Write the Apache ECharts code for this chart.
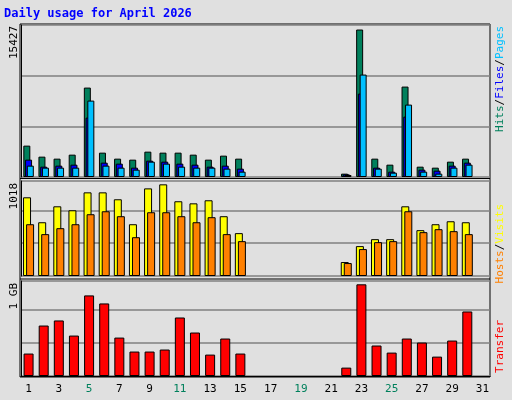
<!DOCTYPE html>
<html><head><meta charset="utf-8">
<script src="https://cdn.jsdelivr.net/npm/echarts@6/dist/echarts.min.js"></script>
<style>html,body{margin:0;padding:0;background:#e0e0e0}#c{width:512px;height:400px}</style>
</head><body><div id="c"></div>
<script>
const days = ['1','2','3','4','5','6','7','8','9','10','11','12','13','14','15','16','17','18','19','20','21','22','23','24','25','26','27','28','29','30','31'];
const weekend = ['4','5','11','12','18','19','25','26'];
const hits  = [3281,2129,1920,2338,9353,2548,1920,1815,2652,2548,2548,2338,1815,2234,1920,null,null,null,null,null,null,349,15427,1920,1291,9458,1082,977,1605,1920,null];
const files = [1815,1082,1187,1291,6212,1501,1396,977,1710,1605,1396,1291,1082,1187,873,null,null,null,null,null,null,279,8725,977,558,6317,768,663,1187,1501,null];
const pages = [1187,977,977,977,7992,1187,977,768,1605,1396,1082,977,977,873,558,null,null,null,null,null,null,209,10714,873,454,7573,558,349,977,1291,null];
const visits= [874,597,774,730,929,929,852,575,973,1018,830,807,841,664,476,null,null,null,null,null,null,155,332,409,409,774,509,575,608,597,null];
const hosts = [575,465,531,575,686,719,664,431,708,708,664,597,653,465,387,null,null,null,null,null,null,144,299,376,387,719,487,520,498,465,null];
const transferMB = [257,578,636,463,923,831,440,280,280,303,670,498,245,429,257,null,null,null,null,null,null,96,1050,349,268,429,383,222,406,739,null];
const maxLabels = ['15427','1018','1 GB'];

const chart = echarts.init(document.getElementById('c'));
const F = 'DejaVu Sans Mono';
const L = 21, R = 22;
const grids = [{left:L,right:R,top:25,height:152},{left:L,right:R,top:181,height:95},{left:L,right:R,top:281,height:95}];
const xa = i => ({type:'category',gridIndex:i,data:days,boundaryGap:true,
  axisLine:{show:i===2,lineStyle:{color:'#000'}},axisTick:{show:false},
  axisLabel:{show:i===2,fontFamily:F,fontSize:11,margin:8,
    color:(v)=>weekend.includes(v)?'#00805c':'#000'}});
const ya = (i,max,intv) => ({type:'value',gridIndex:i,min:0,max:max,interval:intv,
  axisLabel:{show:false},axisLine:{show:true,lineStyle:{color:'#000'}},axisTick:{show:false},
  splitLine:{show:true,lineStyle:{color:'#808080',width:1.5}}});
const bs = {borderColor:'#000',borderWidth:1};
const bar = (name,data,color,xi,w,gap) => ({type:'bar',name,data,xAxisIndex:xi,yAxisIndex:xi,barWidth:w,barGap:gap,
  itemStyle:Object.assign({color},bs),animation:false});
const vt = (x,y,parts) => ({type:'text',x,y,rotation:Math.PI/2,
  style:{text:parts.map(p=>'{'+p[1]+'|'+p[0]+'}').join(''),fontFamily:F,fontSize:11,align:'right',verticalAlign:'middle',
  rich:{g:{fill:'#00805c',fontFamily:F,fontSize:11},b:{fill:'#0000ff',fontFamily:F,fontSize:11},c:{fill:'#00c0ff',fontFamily:F,fontSize:11},
        k:{fill:'#000',fontFamily:F,fontSize:11},o:{fill:'#ff8000',fontFamily:F,fontSize:11},y:{fill:'#ffff00',fontFamily:F,fontSize:11},r:{fill:'#ff0000',fontFamily:F,fontSize:11}}}});
chart.setOption({
  backgroundColor:'#e0e0e0',
  grid:grids,
  xAxis:[xa(0),xa(1),xa(2)],
  yAxis:[ya(0,15900,5300),ya(1,1055,365),ya(2,1088,379)],
  series:[
    bar('Hits',hits,'#00805c',0,7,'-75%'),
    bar('Files',files,'#0000ff',0,7,'-75%'),
    bar('Pages',pages,'#00c0ff',0,7,'-75%'),
    bar('Visits',visits,'#ffff00',1,8,'-62%'),
    bar('Hosts',hosts,'#ff8000',1,8,'-62%'),
    bar('Transfer',transferMB,'#ff0000',2,10,'0%')
  ],
  graphic:[
    {type:'text',left:4,top:8,style:{text:'Daily usage for April 2026',fontFamily:F,fontSize:12,fontWeight:'bold',fill:'#0000ff'}},
    {type:'rect',shape:{x:20,y:24,width:470,height:353},style:{fill:'none',stroke:'#000',lineWidth:1}},
    {type:'line',shape:{x1:20,y1:178.5,x2:490,y2:178.5},style:{stroke:'#000',lineWidth:1}},
    {type:'line',shape:{x1:20,y1:279,x2:490,y2:279},style:{stroke:'#000',lineWidth:1}},
    {type:'text',x:14,y:26,rotation:Math.PI/2,style:{text:maxLabels[0],fontFamily:F,fontSize:11,fill:'#000',align:'right',verticalAlign:'middle'}},
    {type:'text',x:14,y:183,rotation:Math.PI/2,style:{text:maxLabels[1],fontFamily:F,fontSize:11,fill:'#000',align:'right',verticalAlign:'middle'}},
    {type:'text',x:14,y:283,rotation:Math.PI/2,style:{text:maxLabels[2],fontFamily:F,fontSize:11,fill:'#000',align:'right',verticalAlign:'middle'}},
    vt(500,26,[['Hits','g'],['/','k'],['Files','b'],['/','k'],['Pages','c']]),
    vt(500,204,[['Hosts','o'],['/','k'],['Visits','y']]),
    vt(500,320,[['Transfer','r']])
  ]
});
</script></body></html>
